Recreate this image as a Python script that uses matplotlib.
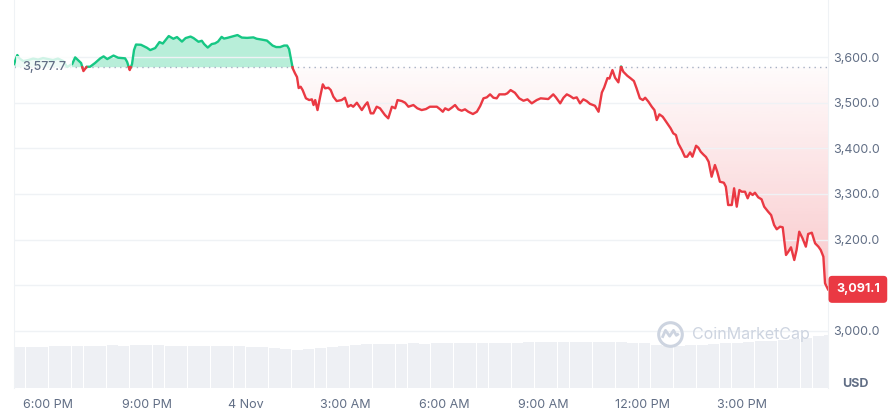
import numpy as np
import matplotlib.pyplot as plt
from matplotlib.path import Path

plt.rcParams['font.family'] = ['Inter', 'DejaVu Sans']

# price over 24h, time in hours from 4 Nov 00:00
hours = [-7.02, -6.92, -6.85, -6.74, -6.59, -6.44, -6.29, -6.14, -5.99, -5.84,
         -5.69, -5.53, -5.41, -5.32, -5.26, -5.17, -5.07, -4.99, -4.92, -4.82,
         -4.72, -4.57, -4.41, -4.31, -4.20, -4.11, -4.01, -3.87, -3.66, -3.60,
         -3.52, -3.45, -3.39, -3.33, -3.18, -3.00, -2.90, -2.75, -2.62, -2.52,
         -2.34, -2.20, -2.09, -1.94, -1.83, -1.68, -1.59, -1.44, -1.34, -1.27,
         -1.16, -1.04, -0.94, -0.85, -0.74, -0.67, -0.57, -0.42, -0.26, -0.13,
         0.03, 0.22, 0.32, 0.47, 0.63, 0.80, 0.91, 1.03, 1.15, 1.24,
         1.30, 1.41, 1.48, 1.54, 1.59, 1.65, 1.71, 1.81, 1.91, 1.99,
         2.04, 2.09, 2.16, 2.24, 2.32, 2.39, 2.49, 2.56, 2.64, 2.74,
         2.89, 2.99, 3.08, 3.17, 3.24, 3.35, 3.50, 3.60, 3.67, 3.77,
         3.85, 3.95, 4.05, 4.20, 4.30, 4.41, 4.51, 4.58, 4.71, 4.81,
         4.91, 5.06, 5.18, 5.31, 5.44, 5.56, 5.77, 5.87, 5.95, 6.02,
         6.12, 6.22, 6.32, 6.42, 6.52, 6.62, 6.72, 6.86, 6.98, 7.08,
         7.18, 7.28, 7.38, 7.48, 7.58, 7.66, 7.83, 7.90, 8.00, 8.13,
         8.26, 8.39, 8.51, 8.64, 8.79, 8.91, 9.14, 9.29, 9.37, 9.50,
         9.60, 9.70, 9.80, 9.90, 10.00, 10.10, 10.20, 10.30, 10.40, 10.55,
         10.66, 10.76, 10.83, 10.93, 10.99, 11.08, 11.16, 11.26, 11.34, 11.41,
         11.53, 11.63, 11.73, 11.81, 11.91, 12.00, 12.07, 12.17, 12.27, 12.35,
         12.42, 12.50, 12.60, 12.67, 12.77, 12.84, 12.92, 13.00, 13.07, 13.18,
         13.27, 13.34, 13.43, 13.50, 13.61, 13.68, 13.75, 13.83, 13.91, 13.99,
         14.08, 14.18, 14.25, 14.33, 14.45, 14.51, 14.58, 14.69, 14.76, 14.84,
         14.92, 14.99, 15.09, 15.17, 15.24, 15.32, 15.39, 15.49, 15.59, 15.67,
         15.79, 15.88, 15.97, 16.05, 16.15, 16.23, 16.33, 16.40, 16.48, 16.58,
         16.65, 16.73, 16.83, 16.93, 17.00, 17.11, 17.21, 17.31, 17.38, 17.46,
         17.51, 17.56, 17.60]
prices = [3584.7, 3604.4, 3596.7, 3591.2, 3593.4, 3596.7, 3594.5, 3597.8, 3595.6, 3593.4,
          3596.7, 3591.2, 3578.1, 3582.5, 3584.7, 3599.3, 3592.3, 3586.9, 3569.3, 3578.8,
          3578.8, 3586.9, 3597.2, 3601.5, 3595.6, 3599.3, 3603.3, 3598.5, 3597.2, 3589.7,
          3571.5, 3584.7, 3615.3, 3627.4, 3626.9, 3620.4, 3615.3, 3619.7, 3632.9, 3629.6,
          3646.0, 3640.1, 3643.8, 3633.9, 3641.6, 3644.9, 3641.6, 3633.5, 3635.7, 3628.5,
          3620.8, 3628.5, 3630.0, 3633.9, 3644.2, 3640.5, 3642.0, 3644.9, 3648.2, 3642.7,
          3642.0, 3643.1, 3640.1, 3638.3, 3636.1, 3625.2, 3621.9, 3621.9, 3625.2, 3625.2,
          3617.5, 3575.3, 3564.3, 3556.2, 3532.1, 3535.0, 3527.7, 3509.6, 3505.8, 3507.4,
          3494.9, 3505.8, 3483.9, 3513.1, 3540.2, 3531.5, 3532.8, 3527.7, 3513.1, 3503.6,
          3505.8, 3510.9, 3491.2, 3494.9, 3491.2, 3499.9, 3483.9, 3494.9, 3500.8, 3476.7,
          3476.7, 3491.2, 3487.7, 3472.9, 3465.8, 3491.2, 3487.7, 3505.8, 3503.6, 3499.9,
          3491.2, 3494.9, 3487.7, 3483.9, 3486.1, 3491.2, 3491.2, 3485.5, 3480.2, 3487.7,
          3483.9, 3489.0, 3494.9, 3485.5, 3482.4, 3485.5, 3480.2, 3475.2, 3480.2, 3492.7,
          3509.6, 3511.7, 3518.3, 3510.9, 3509.6, 3518.3, 3518.3, 3520.5, 3527.7, 3521.8,
          3509.6, 3504.3, 3507.4, 3498.6, 3505.8, 3509.6, 3508.0, 3518.3, 3511.7, 3498.6,
          3510.9, 3518.3, 3514.6, 3509.6, 3511.7, 3498.6, 3507.4, 3503.6, 3497.5, 3493.3,
          3480.2, 3522.3, 3533.2, 3554.0, 3552.9, 3571.5, 3554.7, 3544.6, 3579.5, 3567.8,
          3559.0, 3553.4, 3547.4, 3531.5, 3509.6, 3505.8, 3510.9, 3502.1, 3491.2, 3483.9,
          3462.0, 3474.5, 3469.3, 3462.0, 3451.1, 3443.9, 3432.9, 3429.2, 3411.0, 3396.3,
          3381.7, 3381.7, 3391.3, 3381.7, 3405.7, 3401.4, 3392.6, 3386.5, 3381.0, 3370.7,
          3337.9, 3363.5, 3348.8, 3326.9, 3324.7, 3316.0, 3275.9, 3275.9, 3312.5, 3272.2,
          3308.7, 3305.0, 3305.0, 3290.6, 3302.8, 3297.8, 3302.8, 3292.7, 3288.4, 3272.2,
          3261.2, 3253.8, 3232.1, 3222.7, 3228.4, 3227.0, 3166.4, 3173.6, 3183.2, 3155.4,
          3177.3, 3217.4, 3202.9, 3184.6, 3212.4, 3215.2, 3192.0, 3184.6, 3177.3, 3162.7,
          3104.4, 3097.0, 3091.1]

open_price = 3577.7
last_price = 3091.1

# volume bars (arbitrary units), one every 21 minutes
volumes = [28.4, 28.6, 28.9, 29.3, 29.4, 29.3, 29.5, 29.7, 29.8, 29.6,
           29.8, 30.0, 30.1, 29.7, 29.4, 29.2, 29.1, 29.3, 29.5, 29.3,
           28.9, 28.4, 27.8, 27.0, 26.9, 27.1, 27.7, 28.5, 29.4, 30.1,
           30.5, 30.7, 30.9, 31.1, 31.2, 31.1, 31.3, 31.4, 31.5, 31.4,
           31.6, 31.5, 31.7, 31.8, 32.0, 31.9, 32.2, 32.1, 32.3, 32.2,
           32.3, 32.1, 32.0, 31.8, 31.2, 30.3, 29.4, 29.2, 29.9, 30.4,
           30.8, 31.2, 31.7, 32.1, 32.6, 32.9, 33.6, 34.4, 35.3, 36.3,
           37.3]
vol_hours = -6.85 + 0.35 * np.arange(len(volumes))

tick_hours = [-6, -3, 0, 3, 6, 9, 12, 15]
tick_labels = ['6:00 PM', '9:00 PM', '4 Nov', '3:00 AM', '6:00 AM',
               '9:00 AM', '12:00 PM', '3:00 PM']
price_ticks = [3000, 3100, 3200, 3300, 3400, 3500, 3600]

green = '#16c784'
red = '#ea3943'
grey = '#616e85'
xlim = (-7.02, 17.60)
ylim = (2875, 3725)

fig = plt.figure(figsize=(8.89, 4.11), dpi=100)
rect = [14 / 889, 23 / 411, 814 / 889, 388 / 411]

# volume in its own axes underneath
ax_vol = fig.add_axes(rect)
ax_vol.bar(vol_hours, volumes, width=0.335, color='#eef0f4', linewidth=0)
ax_vol.set_xlim(xlim)
ax_vol.set_ylim(0, 272)
ax_vol.axis('off')

ax = fig.add_axes(rect)
ax.patch.set_alpha(0)

# split the line where it crosses the opening price
t = np.array(hours)
p = np.array(prices)
tt, pp = [t[0]], [p[0]]
for i in range(1, len(t)):
    a, b = p[i - 1] - open_price, p[i] - open_price
    if a * b < 0:
        tt.append(t[i - 1] + (t[i] - t[i - 1]) * a / (a - b))
        pp.append(open_price)
    tt.append(t[i])
    pp.append(p[i])
tt, pp = np.array(tt), np.array(pp)
up = np.where(pp >= open_price, pp, np.nan)
down = np.where(pp <= open_price, pp, np.nan)

ax.fill_between(tt, pp, open_price, where=pp >= open_price, color=green,
                alpha=0.3, linewidth=0, zorder=1)

# red area with a gradient, darker further below the open
red_poly = ax.fill_between(tt, pp, open_price, where=pp <= open_price,
                           facecolor='none', edgecolor='none')
clip = Path.make_compound_path(*red_poly.get_paths())
n = 256
rows = np.linspace(ylim[0], open_price, n)
depth = (open_price - rows) / (open_price - last_price)
grad = np.zeros((n, 1, 4))
grad[..., :3] = np.array([234, 57, 67]) / 255
grad[:, 0, 3] = np.clip(0.02 + 0.26 * depth, 0, 0.32)
im = ax.imshow(grad, extent=[xlim[0], xlim[1], ylim[0], open_price],
               origin='lower', aspect='auto', interpolation='bilinear', zorder=1)
im.set_clip_path(clip, ax.transData)

ax.axhline(open_price, color='#a6b0c3', lw=1, ls=(0, (1, 3)), zorder=1.6)
ax.plot(tt, up, color=green, lw=1.7, solid_joinstyle='round', zorder=3)
ax.plot(tt, down, color=red, lw=1.7, solid_joinstyle='round', zorder=3)

ax.set_xlim(xlim)
ax.set_ylim(ylim)
ax.set_xticks(tick_hours)
ax.set_xticklabels(tick_labels)
ax.set_yticks(price_ticks)
# the 3,100 label sits under the last price tag, so it is left blank
ax.set_yticklabels(['' if v == 3100 else f'{v:,.1f}' for v in price_ticks])
ax.yaxis.tick_right()
ax.tick_params(axis='y', length=0, pad=3.6, labelsize=9, labelcolor=grey)
ax.tick_params(axis='x', length=0, pad=8, labelsize=9, labelcolor=grey)
ax.grid(axis='y', color='#eff2f5', lw=1)
for side in ['top', 'bottom']:
    ax.spines[side].set_visible(False)
for side in ['left', 'right']:
    ax.spines[side].set_color('#eff2f5')

# opening price label on the left
ax.annotate(f'{open_price:,.1f}', xy=(0, open_price), xycoords=ax.get_yaxis_transform(),
            xytext=(8, 0), textcoords='offset pixels', ha='left', va='center',
            fontsize=9, color=grey, fontweight='medium', zorder=5,
            bbox=dict(boxstyle='square,pad=0.45', fc='white', ec='none', alpha=0.8))

# last price tag on the right
ax.annotate(f'{last_price:,.1f}', xy=(1, last_price), xycoords=ax.get_yaxis_transform(),
            xytext=(8, 0), textcoords='offset pixels', ha='left', va='center',
            fontsize=9, color='white', fontweight='bold', zorder=10, annotation_clip=False,
            bbox=dict(boxstyle='round,pad=0.6,rounding_size=0.3', fc=red, ec='none'))

# watermark
wm = '#cdd4e0'
ax.plot([0.806], [0.139], marker='o', ms=17, mfc='none', mec=wm, mew=2.2,
        transform=ax.transAxes, clip_on=False)
wave = Path([(-0.5, -0.2), (-0.3, 0.25), (-0.05, -0.1), (0.18, 0.25), (0.35, -0.05), (0.5, 0.05)])
ax.plot([0.806], [0.139], marker=wave, ms=12, mfc='none', mec=wm, mew=2.0,
        transform=ax.transAxes, clip_on=False)
ax.text(0.833, 0.139, 'CoinMarketCap', transform=ax.transAxes, ha='left', va='center',
        fontsize=11.5, color=wm)

fig.text(855 / 889, 1 - 384 / 411, 'USD', ha='center', va='center',
         fontsize=9, fontweight='bold', color=grey)

fig.savefig('out.png', dpi=100)
